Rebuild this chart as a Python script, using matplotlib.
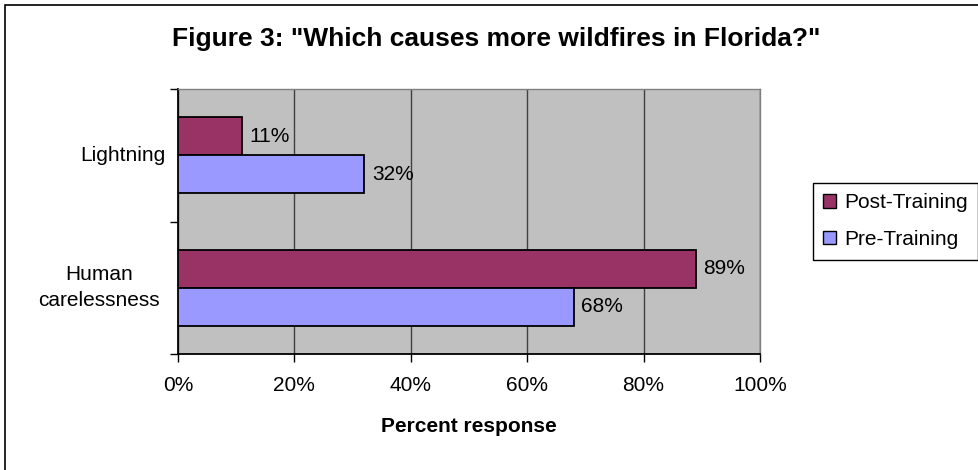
import matplotlib.pyplot as plt
from matplotlib.patches import Patch, Rectangle

# -----------------------------------------
# data
# -----------------------------------------
categories = ["Human\ncarelessness", "Lightning"]
post_training = [89, 11]
pre_training = [68, 32]
series_names = ["Post-Training", "Pre-Training"]
x_ticks = [0, 20, 40, 60, 80, 100]

post_color = "#993366"
pre_color = "#9999FF"
fs = 15

plt.rcParams["font.family"] = ["Liberation Sans", "DejaVu Sans"]

fig = plt.figure(figsize=(9.79, 4.70), dpi=100)
ax = fig.add_axes([178 / 979, 1 - 354 / 470, (760 - 178) / 979, (354 - 89) / 470])
ax.set_facecolor("#C0C0C0")

# outer chart border (only left/top visible in the crop)
fig.patches.append(Rectangle((5 / 979, -0.2), 2, 1.2 - 5 / 470,
                             transform=fig.transFigure, fill=False,
                             edgecolor="black", lw=1.2))

pos = list(range(len(categories)))
h = 0.287
ax.barh([p + h / 2 for p in pos], post_training, height=h, color=post_color,
        edgecolor="black", lw=1.3, zorder=3)
ax.barh([p - h / 2 for p in pos], pre_training, height=h, color=pre_color,
        edgecolor="black", lw=1.3, zorder=3)

for p, v in zip(pos, post_training):
    ax.text(v + 1.3, p + h / 2, f"{v}%", va="center", ha="left", fontsize=fs, zorder=4)
for p, v in zip(pos, pre_training):
    ax.text(v + 1.3, p - h / 2, f"{v}%", va="center", ha="left", fontsize=fs, zorder=4)

ax.set_xlim(0, 100)
ax.set_ylim(-0.5, 1.5)
ax.set_xticks(x_ticks)
ax.set_xticklabels([f"{t}%" for t in x_ticks], fontsize=fs)
ax.set_yticks([-0.5, 0.5, 1.5])
ax.set_yticklabels([])
ax.tick_params(axis="both", direction="out", length=6, width=1, color="black")
ax.tick_params(axis="x", pad=10)
ax.xaxis.grid(True, color="#404040", lw=1, zorder=1)
ax.set_axisbelow(True)

for s in ["top", "right"]:
    ax.spines[s].set_color("#808080")
    ax.spines[s].set_linewidth(1)
for s in ["left", "bottom"]:
    ax.spines[s].set_color("black")
    ax.spines[s].set_linewidth(1.3)

# category labels (excel centres the wrapped one)
ax.text(-0.136, pos[0], categories[0], transform=ax.get_yaxis_transform(),
        ha="center", va="center", fontsize=fs, multialignment="center",
        linespacing=1.5)
ax.text(-0.022, pos[1], categories[1], transform=ax.get_yaxis_transform(),
        ha="right", va="center", fontsize=fs)

ax.set_xlabel("Percent response", fontsize=fs, fontweight="bold", labelpad=16)

fig.text(496 / 979, 1 - 39 / 470, 'Figure 3: "Which causes more wildfires in Florida?"',
         ha="center", va="center", fontsize=19, fontweight="bold")

handles = [Patch(facecolor=post_color, edgecolor="black"),
           Patch(facecolor=pre_color, edgecolor="black")]
leg = fig.legend(handles, series_names, loc="upper left",
                 bbox_to_anchor=(813 / 979, 1 - 183 / 470), fontsize=fs,
                 frameon=True, fancybox=False, edgecolor="black", framealpha=1,
                 handlelength=0.6, handleheight=0.6, handletextpad=0.4,
                 borderpad=0.5, labelspacing=0.85, borderaxespad=0)
leg.get_frame().set_linewidth(1)

fig.savefig("out.png", dpi=100)
